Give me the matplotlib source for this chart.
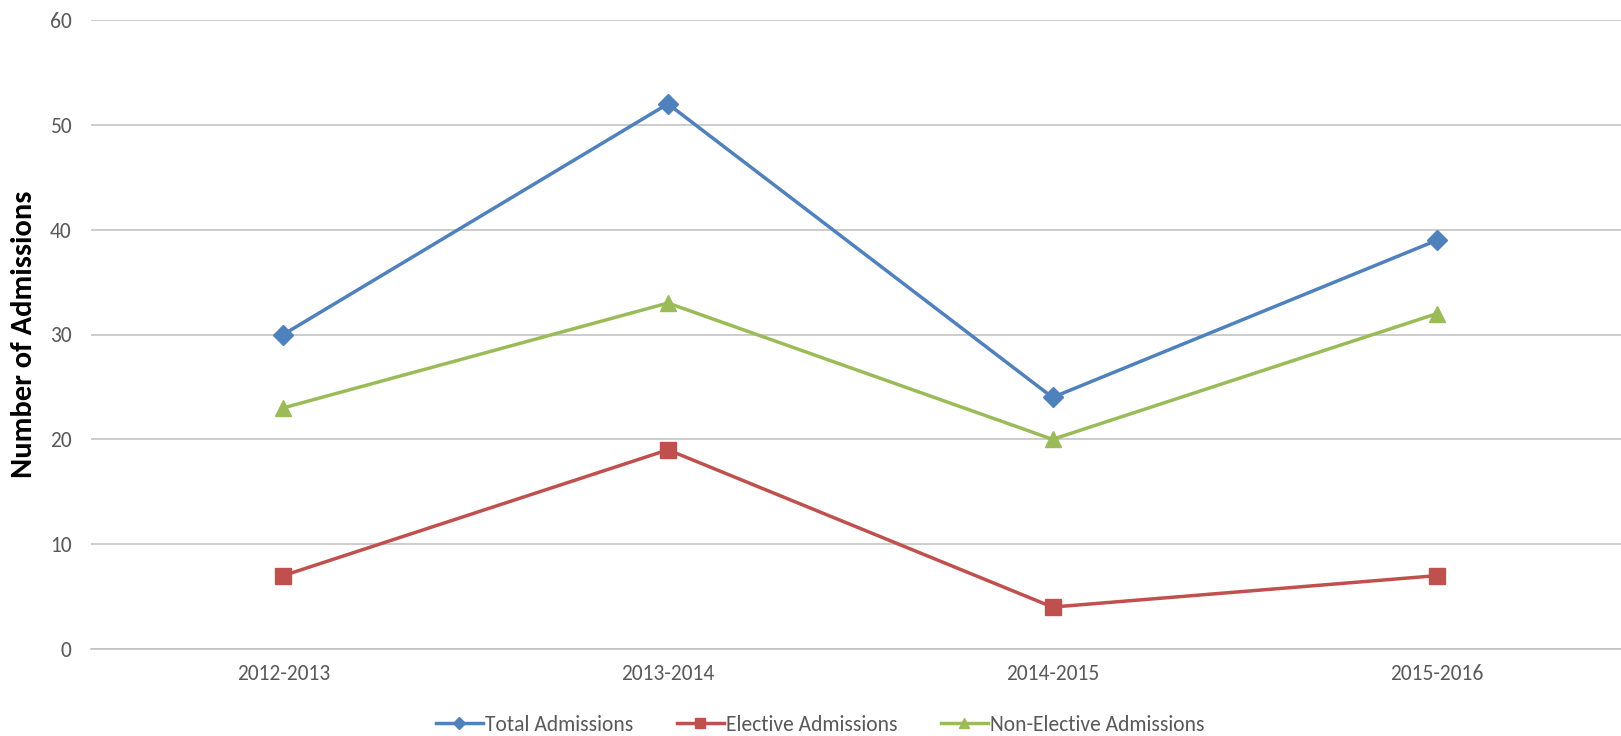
import matplotlib
matplotlib.use("Agg")
import matplotlib.pyplot as plt
from matplotlib import font_manager

# Pick a narrow sans family if one is available
available = {f.name for f in font_manager.fontManager.ttflist}
family = next((f for f in ["Carlito", "Liberation Sans Narrow", "Open Sans", "Liberation Sans"]
               if f in available), "DejaVu Sans")
plt.rcParams["font.family"] = [family, "DejaVu Sans"]

seasons = ["2012-2013", "2013-2014", "2014-2015", "2015-2016"]
total_admissions = [30, 52, 24, 39]
elective_admissions = [7, 19, 4, 7]
non_elective_admissions = [23, 33, 20, 32]
y_ticks = [0, 10, 20, 30, 40, 50, 60]

fig = plt.figure(figsize=(16.21, 7.36), dpi=100)
ax = fig.add_axes([91 / 1621, 1 - 649 / 736, 1 - 91 / 1621, (649 - 20) / 736])

x = range(len(seasons))
ax.plot(x, total_admissions, color="#4F81BD", lw=2.5, marker="D", ms=10,
        label="Total Admissions", zorder=3)
ax.plot(x, elective_admissions, color="#C0504D", lw=2.5, marker="s", ms=12,
        label="Elective Admissions", zorder=3)
ax.plot(x, non_elective_admissions, color="#9BBB59", lw=2.5, marker="^", ms=12,
        label="Non-Elective Admissions", zorder=3)

ax.set_xlim(-0.5, 3.478)
ax.set_ylim(0, 60)
ax.set_yticks(y_ticks)
ax.set_xticks(list(x))
ax.set_xticklabels(seasons)
ax.yaxis.grid(True, color="#BFBFBF", lw=1.1)
ax.set_axisbelow(True)
for side in ["top", "right", "left"]:
    ax.spines[side].set_visible(False)
ax.spines["bottom"].set_color("#BFBFBF")
ax.spines["bottom"].set_linewidth(1.1)
ax.tick_params(axis="both", length=0, labelsize=15.5, labelcolor="#595959")
ax.tick_params(axis="y", pad=14)
ax.tick_params(axis="x", pad=11)

ax.set_ylabel("Number of Admissions", fontsize=22, fontweight="bold")
ax.yaxis.set_label_coords(-0.0355, 0.5)

fig.legend(loc="center", bbox_to_anchor=(0.506, 1 - 725 / 736), ncol=3, frameon=False,
           fontsize=15.5, handlelength=2.2, columnspacing=2.0, handletextpad=0.1,
           markerscale=0.6, labelcolor="#595959")

fig.savefig("out.png", dpi=100, facecolor="white")
